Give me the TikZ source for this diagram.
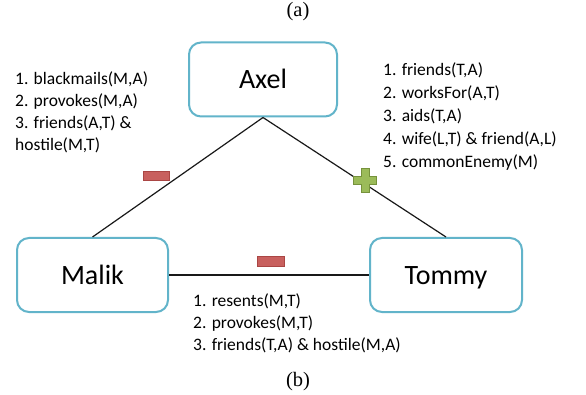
\documentclass[tikz,border=0pt]{standalone}
\usepackage{fontspec}
\setmainfont{Liberation Serif}
\newfontfamily\carlitofont{Carlito}
\definecolor{boxblue}{RGB}{98,180,202}
\definecolor{minusfill}{RGB}{200,96,94}
\definecolor{minusdraw}{RGB}{170,70,68}
\definecolor{plusfill}{RGB}{155,187,89}
\definecolor{plusdraw}{RGB}{118,146,60}
\begin{document}
\begin{tikzpicture}[x=1pt,y=-1pt,
 person/.style={draw=boxblue, line width=2pt, rounded corners=12pt, minimum width=150pt, minimum height=74pt, font=\carlitofont\fontsize{28}{30}\selectfont, inner sep=0, text height=18pt, text depth=0pt},
 rel/.style={anchor=base west, inner sep=0, font=\carlitofont\fontsize{17.5}{21}\selectfont},
 link/.style={line width=1.2pt, draw=black!90},
 neg/.style={draw=minusdraw, fill=minusfill, line width=1pt, minimum width=26pt, minimum height=9pt, inner sep=0},
 plussign/.style={draw=plusdraw, fill=plusfill, line width=1pt, line join=miter},
 caption/.style={font=\fontsize{20.5}{22}\selectfont, inner sep=0}]
\useasboundingbox (0,0) rectangle (586,395);
\fill[white] (0,0) rectangle (586,395);
% captions
\node[caption] (capa) at (298,12) {(a)};
\node[caption] (capb) at (298,382) {(b)};
% people
\node[person, minimum width=148pt] (axel) at (263,79.5) {Axel};
\node[person, minimum width=151pt] (malik) at (92.5,275) {Malik};
\node[person, minimum width=152pt] (tommy) at (446,275) {Tommy};
% relations
\draw[link] (axel.south) -- (malik.north);
\draw[link] (axel.south) -- (tommy.north);
\draw[link] (malik.east) -- (tommy.west);
% signs
\node[neg] (negAM) at (156,176.5) {};
\node[neg, minimum width=27pt, minimum height=10pt] (negMT) at (271,262) {};
\draw[plussign, shift={(365,181)}] (-11.5,-4) -- (-4,-4) -- (-4,-12) -- (4,-12) -- (4,-4) -- (11.5,-4) -- (11.5,4) -- (4,4) -- (4,12) -- (-4,12) -- (-4,4) -- (-11.5,4) -- cycle;
% left list
\node[rel] (am1) at (15,85) {1. blackmails(M,A)};
\node[rel] (am2) at (15,107) {2. provokes(M,A)};
\node[rel] (am3) at (15,129) {3. friends(A,T) \&};
\node[rel] (am4) at (15,151) {hostile(M,T)};
% right list
\node[rel] (at1) at (383,76) {1. friends(T,A)};
\node[rel] (at2) at (383,99) {2. worksFor(A,T)};
\node[rel] (at3) at (383,122) {3. aids(T,A)};
\node[rel] (at4) at (383,145) {4. wife(L,T) \& friend(A,L)};
\node[rel] (at5) at (383,168) {5. commonEnemy(M)};
% bottom list
\node[rel] (mt1) at (193,306) {1. resents(M,T)};
\node[rel] (mt2) at (193,328) {2. provokes(M,T)};
\node[rel] (mt3) at (193,350) {3. friends(T,A) \& hostile(M,A)};
\end{tikzpicture}
\end{document}
